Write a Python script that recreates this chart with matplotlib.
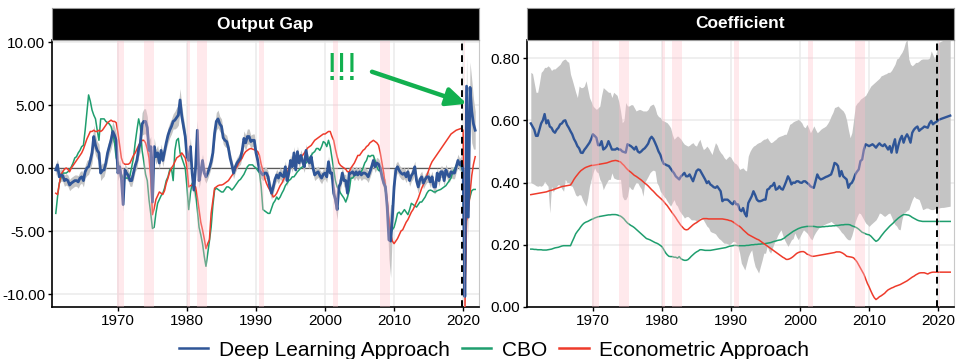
import numpy as np
import matplotlib
matplotlib.use("Agg")
import matplotlib.pyplot as plt
from matplotlib.lines import Line2D
from matplotlib.ticker import FormatStrFormatter

plt.rcParams['font.family'] = ['Liberation Sans', 'DejaVu Sans']
plt.rcParams['axes.unicode_minus'] = False

# ---------------------------------------------------------------------------
# Quarterly data, 1961Q1 - 2021Q4 (one row per year)
# ---------------------------------------------------------------------------
start_year = 1961
n_quarters = 244

# Output gap (%) -- deep learning estimate
gap_dl = [
    -0.15, 0.25, -0.7, -0.55,
    -0.6, -1.0, -0.9, -1.0,
    -1.35, -1.2, -1.1, -1.0,
    -1.0, -1.1, -0.8, -0.7,
    -1.0, -0.3, 0.0, 0.1,
    0.6, 1.2, 2.5, 1.8,
    1.4, 1.2, -0.4, -0.2,
    -0.15, 0.4, 1.2, 1.7,
    2.2, 2.9, 2.6, 2.2,
    -0.4, 0.1, -0.8, -2.9,
    -0.15, -0.4, -0.6, -1.0,
    -1.0, -0.4, 0.2, 0.6,
    1.5, 2.0, 3.5, 3.7,
    3.7, 3.2, 1.4, 1.7,
    -2.7, 1.7, 0.9, 1.2,
    0.4, 1.4, 0.6, 1.3,
    2.0, 2.6, 3.0, 3.3,
    3.7, 3.8, 4.0, 4.2,
    5.4, 4.1, 3.3, 2.5,
    0.9, 0.6, 1.7, -0.4,
    -1.75, 0.1, 3.0, -1.0,
    -0.3, 0.6, -0.4, -0.7,
    -0.4, 0.0, 0.5, 1.2,
    2.75, 3.7, 3.9, 3.5,
    3.3, 2.4, 2.2, 2.1,
    1.6, 0.8, 0.25, -0.4,
    0.1, 0.4, 0.6, 0.8,
    1.4, 2.35, 2.0, 2.5,
    2.5, 2.1, 2.2, 2.2,
    1.2, 0.6, -0.2, -0.4,
    -0.55, -0.4, -0.4, -0.7,
    -1.5, -2.0, -1.5, -0.9,
    -0.55, -0.8, -0.4, -0.6,
    -0.7, 0.1, -1.0, -0.4,
    0.6, 0.1, 1.2, -0.15,
    1.3, 0.4, 1.0, 0.5,
    0.1, 1.4, 0.6, 0.4,
    0.9, 0.0, -0.55, -0.4,
    -0.3, -0.6, -0.8, -0.5,
    -0.4, -0.7, 0.5, -0.4,
    -0.4, -2.0, -2.5, -3.3,
    -1.5, -1.2, -0.4, -1.0,
    -1.0, -2.0, -0.4, -0.4,
    -0.3, -0.55, -0.3, -0.55,
    -0.3, -0.55, -0.4, -0.4,
    -0.5, -0.7, -0.3, 0.1,
    0.6, 0.1, 0.4, 0.3,
    0.0, -0.7, -1.2, -1.5,
    -3.1, -5.7, -5.8, -3.9,
    -1.5, -0.15, 0.1, -0.2,
    -0.4, -0.5, -0.4, -0.7,
    -0.3, -1.0, -0.6, -0.4,
    0.1, -1.0, -1.5, -0.9,
    -0.7, -1.2, -0.9, -0.7,
    -0.7, -1.1, -0.7, -1.5,
    -1.5, -0.4, -1.0, -0.3,
    -0.3, -1.0, -0.15, -0.5,
    -0.7, -0.3, -0.4, -0.4,
    0.1, 0.6, 0.25, 0.5,
    -0.2, -10.2, 6.5, -3.9,
    6.4, 4.5, 3.5, 3.0,
]

# Half-width of the uncertainty band around gap_dl
gap_dl_band = [
    0.45, 0.45, 0.5, 0.5,
    0.45, 0.45, 0.45, 0.45,
    0.45, 0.45, 0.45, 0.45,
    0.45, 0.5, 0.5, 0.5,
    0.5, 0.5, 0.6, 0.6,
    0.7, 0.8, 0.9, 0.8,
    0.7, 0.7, 0.6, 0.6,
    0.5, 0.5, 0.6, 0.6,
    0.7, 0.8, 0.7, 0.6,
    0.6, 0.6, 0.6, 0.5,
    0.5, 0.5, 0.45, 0.45,
    0.45, 0.5, 0.5, 0.6,
    0.6, 0.7, 0.9, 1.0,
    1.0, 0.9, 0.8, 0.8,
    0.8, 0.7, 0.6, 0.6,
    0.5, 0.5, 0.5, 0.5,
    0.5, 0.6, 0.6, 0.6,
    0.6, 0.7, 0.8, 0.8,
    0.9, 0.8, 0.7, 0.6,
    0.6, 0.7, 0.7, 0.7,
    0.7, 0.6, 0.8, 0.6,
    0.6, 0.5, 0.5, 0.5,
    0.45, 0.45, 0.5, 0.6,
    0.6, 0.7, 0.7, 0.6,
    0.6, 0.5, 0.5, 0.5,
    0.45, 0.45, 0.45, 0.45,
    0.45, 0.45, 0.45, 0.5,
    0.5, 0.6, 0.6, 0.6,
    0.6, 0.5, 0.5, 0.5,
    0.45, 0.45, 0.45, 0.45,
    0.45, 0.45, 0.45, 0.45,
    0.5, 0.5, 0.5, 0.45,
    0.45, 0.45, 0.45, 0.45,
    0.45, 0.45, 0.45, 0.45,
    0.45, 0.45, 0.5, 0.45,
    0.45, 0.45, 0.45, 0.45,
    0.45, 0.5, 0.45, 0.45,
    0.45, 0.45, 0.45, 0.45,
    0.45, 0.45, 0.45, 0.45,
    0.45, 0.45, 0.45, 0.45,
    0.5, 0.6, 0.7, 0.8,
    0.6, 0.5, 0.45, 0.5,
    0.5, 0.6, 0.45, 0.45,
    0.45, 0.45, 0.45, 0.45,
    0.45, 0.45, 0.45, 0.45,
    0.45, 0.45, 0.45, 0.45,
    0.45, 0.45, 0.45, 0.45,
    0.45, 0.5, 0.5, 0.6,
    0.8, 1.5, 2.9, 1.0,
    0.6, 0.5, 0.45, 0.45,
    0.45, 0.45, 0.45, 0.45,
    0.45, 0.45, 0.45, 0.45,
    0.45, 0.45, 0.5, 0.45,
    0.45, 0.45, 0.45, 0.45,
    0.45, 0.45, 0.45, 0.5,
    0.5, 0.45, 0.45, 0.45,
    0.45, 0.45, 0.45, 0.45,
    0.45, 0.45, 0.45, 0.45,
    0.45, 0.5, 0.5, 0.5,
    0.6, 1.0, 2.5, 2.0,
    2.0, 2.5, 2.0, 1.5,
]

# Output gap (%) -- CBO
gap_cbo = [
    -3.6, -2.3, -1.2, -0.8,
    -0.4, -0.4, -0.4, -0.3,
    -0.15, 0.1, 0.4, 0.8,
    0.9, 1.2, 1.4, 1.7,
    1.8, 3.0, 4.4, 5.8,
    5.3, 4.6, 4.2, 3.9,
    3.0, 2.2, 3.9, 3.9,
    3.9, 3.7, 3.6, 3.5,
    3.3, 2.75, 2.0, 0.8,
    0.4, -0.15, -0.5, -0.8,
    -0.8, -0.8, -0.8, -0.6,
    0.1, 0.8, 2.0, 3.0,
    3.9, 3.3, 1.4, 0.5,
    -0.5, -1.0, -2.5, -3.6,
    -4.8, -4.7, -3.6, -2.8,
    -2.5, -2.2, -2.0, -1.6,
    -1.0, -0.7, -0.15, 0.0,
    -1.0, 1.4, 2.2, 2.35,
    1.2, 0.8, 0.4, 0.0,
    -1.5, -3.3, -2.0, -1.2,
    -1.4, -2.0, -3.3, -4.7,
    -5.3, -6.0, -7.0, -7.8,
    -6.8, -5.8, -4.7, -3.0,
    -1.75, -1.6, -1.7, -1.8,
    -1.9, -1.9, -1.7, -1.5,
    -1.5, -1.6, -1.75, -1.6,
    -1.4, -1.2, -1.0, -0.9,
    -0.7, -0.5, -0.2, 0.1,
    0.25, 0.25, 0.25, 0.1,
    0.0, -0.2, -0.4, -1.5,
    -3.3, -3.4, -3.5, -3.6,
    -3.6, -3.2, -2.8, -2.6,
    -2.3, -2.5, -2.3, -2.0,
    -1.75, -1.4, -1.2, -1.0,
    -0.9, -0.7, -0.7, -0.5,
    -0.3, -0.15, 0.0, 0.1,
    0.25, 0.4, 0.6, 0.8,
    1.0, 1.2, 1.3, 1.55,
    1.55, 1.4, 1.7, 2.1,
    2.0, 1.7, 2.2, 1.7,
    0.8, -0.15, -1.0, -1.5,
    -1.7, -2.0, -2.2, -2.4,
    -2.7, -2.3, -1.8, -0.8,
    -0.8, -0.6, -0.55, -0.5,
    -0.4, -0.3, 0.0, 0.4,
    0.6, 1.0, 0.9, 1.0,
    1.0, 0.6, 0.1, -0.2,
    -0.2, -0.6, -0.9, -1.8,
    -2.8, -4.5, -5.2, -4.9,
    -4.7, -4.2, -3.6, -3.5,
    -3.7, -3.5, -3.3, -3.5,
    -3.7, -3.3, -2.8, -2.9,
    -3.0, -3.1, -2.9, -2.7,
    -2.7, -2.5, -2.3, -2.0,
    -1.8, -1.75, -1.8, -1.9,
    -1.9, -1.8, -1.75, -1.7,
    -1.6, -1.5, -1.4, -1.2,
    -1.0, -0.8, -0.3, -0.1,
    0.2, 0.4, 0.3, 0.1,
    -0.5, -10.1, -3.5, -2.8,
    -2.3, -1.8, -1.7, -1.7,
]

# Output gap (%) -- econometric estimate
gap_econ = [
    -2.0, -2.1, -1.3, -0.5,
    -0.3, -0.1, 0.0, -0.1,
    -0.3, 0.0, 0.2, 0.4,
    0.6, 0.8, 1.0, 1.2,
    1.5, 1.9, 2.3, 2.6,
    2.9, 2.9, 3.0, 2.9,
    2.9, 3.0, 2.9, 3.0,
    3.2, 3.4, 3.6, 3.7,
    3.8, 3.7, 3.7, 3.6,
    2.8, 1.8, 0.8, 0.4,
    0.3, 0.3, 0.3, 0.4,
    0.7, 1.0, 1.2, 1.5,
    1.8, 2.0, 2.2, 2.2,
    2.0, 1.5, 0.8, -0.8,
    -3.7, -3.2, -2.5, -2.2,
    -1.9, -2.0, -2.1, -1.8,
    -1.2, -0.8, -0.3, 0.0,
    0.2, 0.5, 0.8, 0.9,
    1.0, 1.2, 1.0, 0.8,
    0.1, -1.5, -1.4, -1.35,
    -1.4, -1.5, -2.3, -3.3,
    -4.3, -4.9, -5.6, -6.4,
    -6.0, -5.7, -3.6, -2.6,
    -1.6, -1.5, -1.4, -1.35,
    -1.35, -1.3, -1.2, -1.1,
    -1.0, -0.8, -0.6, -0.4,
    -0.1, 0.1, 0.4, 0.6,
    0.8, 1.1, 1.3, 1.4,
    1.5, 1.55, 1.5, 1.45,
    1.4, 1.3, 1.0, 0.3,
    -0.2, -0.8, -1.2, -1.5,
    -1.75, -2.0, -2.3, -2.2,
    -2.0, -1.7, -1.4, -1.2,
    -0.9, -0.6, -0.4, 0.0,
    0.5, 0.5, 0.6, 0.6,
    0.7, 0.8, 0.9, 1.0,
    1.2, 1.4, 1.6, 1.7,
    1.8, 2.0, 2.2, 2.3,
    2.4, 2.5, 2.6, 2.7,
    2.7, 2.8, 2.9, 2.9,
    2.5, 2.2, 1.5, 0.9,
    0.4, 0.2, 0.1, 0.0,
    -0.1, -0.3, -0.3, 0.0,
    0.2, 0.4, 0.7, 1.0,
    1.0, 1.2, 1.4, 1.5,
    1.7, 1.8, 2.0, 2.1,
    2.2, 2.1, 2.0, 1.8,
    1.2, 0.4, -0.4, -1.5,
    -2.5, -4.0, -5.2, -5.8,
    -6.0, -5.8, -5.6, -5.3,
    -5.0, -4.9, -4.6, -4.3,
    -4.1, -3.8, -3.5, -3.3,
    -3.0, -2.7, -2.4, -2.0,
    -1.6, -1.3, -1.0, -0.6,
    -0.2, 0.2, 0.5, 0.7,
    0.9, 1.1, 1.3, 1.5,
    1.7, 1.9, 2.1, 2.3,
    2.5, 2.7, 2.8, 2.9,
    3.0, 3.05, 3.1, 3.15,
    3.0, -11.5, -4.2, -3.5,
    -2.0, -0.6, 0.3, 0.9,
]

# Coefficient -- deep learning estimate with its band
coef_dl = [
    0.59, 0.58, 0.57, 0.55,
    0.55, 0.57, 0.59, 0.60,
    0.62, 0.59, 0.60, 0.58,
    0.576, 0.565, 0.56, 0.57,
    0.576, 0.587, 0.59, 0.598,
    0.60, 0.585, 0.576, 0.565,
    0.555, 0.54, 0.53, 0.517,
    0.51, 0.496, 0.495, 0.505,
    0.512, 0.52, 0.528, 0.54,
    0.555, 0.55, 0.544, 0.52,
    0.52, 0.533, 0.506, 0.51,
    0.517, 0.533, 0.52, 0.506,
    0.506, 0.506, 0.51, 0.506,
    0.506, 0.50, 0.498, 0.496,
    0.523, 0.52, 0.517, 0.512,
    0.506, 0.515, 0.50, 0.496,
    0.50, 0.506, 0.51, 0.517,
    0.525, 0.54, 0.547, 0.54,
    0.528, 0.515, 0.50, 0.49,
    0.474, 0.46, 0.458, 0.455,
    0.453, 0.445, 0.437, 0.43,
    0.42, 0.415, 0.41, 0.42,
    0.425, 0.431, 0.42, 0.42,
    0.426, 0.415, 0.404, 0.42,
    0.437, 0.442, 0.44, 0.43,
    0.42, 0.41, 0.398, 0.404,
    0.394, 0.39, 0.385, 0.383,
    0.388, 0.38, 0.372, 0.34,
    0.345, 0.345, 0.345, 0.34,
    0.334, 0.33, 0.34, 0.33,
    0.33, 0.313, 0.308, 0.318,
    0.30, 0.291, 0.334, 0.345,
    0.356, 0.372, 0.36, 0.345,
    0.34, 0.34, 0.342, 0.345,
    0.345, 0.377, 0.38, 0.388,
    0.39, 0.399, 0.377, 0.38,
    0.388, 0.38, 0.377, 0.39,
    0.404, 0.42, 0.41, 0.394,
    0.40, 0.399, 0.404, 0.404,
    0.40, 0.399, 0.404, 0.404,
    0.399, 0.395, 0.388, 0.385,
    0.383, 0.404, 0.426, 0.415,
    0.41, 0.412, 0.415, 0.418,
    0.42, 0.423, 0.426, 0.442,
    0.463, 0.46, 0.453, 0.42,
    0.437, 0.42, 0.415, 0.41,
    0.383, 0.395, 0.399, 0.41,
    0.426, 0.435, 0.442, 0.469,
    0.474, 0.506, 0.523, 0.52,
    0.517, 0.52, 0.523, 0.518,
    0.512, 0.52, 0.526, 0.52,
    0.517, 0.523, 0.515, 0.506,
    0.517, 0.496, 0.52, 0.539,
    0.496, 0.52, 0.539, 0.55,
    0.528, 0.545, 0.555, 0.544,
    0.528, 0.56, 0.57, 0.576,
    0.58, 0.566, 0.571, 0.575,
    0.58, 0.578, 0.576, 0.59,
    0.598, 0.587, 0.592, 0.595,
    0.60, 0.603, 0.605, 0.607,
    0.609, 0.611, 0.613, 0.615,
]

coef_dl_hi = [
    0.754, 0.75, 0.72, 0.69,
    0.69, 0.72, 0.754, 0.76,
    0.77, 0.77, 0.775, 0.77,
    0.76, 0.765, 0.765, 0.77,
    0.775, 0.78, 0.79, 0.795,
    0.797, 0.79, 0.786, 0.748,
    0.73, 0.71, 0.69, 0.673,
    0.71, 0.705, 0.705, 0.71,
    0.727, 0.70, 0.673, 0.66,
    0.646, 0.64, 0.635, 0.64,
    0.646, 0.68, 0.705, 0.70,
    0.695, 0.69, 0.69, 0.673,
    0.69, 0.685, 0.68, 0.66,
    0.63, 0.592, 0.60, 0.657,
    0.646, 0.646, 0.65, 0.65,
    0.64, 0.63, 0.633, 0.635,
    0.633, 0.63, 0.63, 0.63,
    0.635, 0.646, 0.65, 0.652,
    0.64, 0.62, 0.612, 0.609,
    0.60, 0.598, 0.595, 0.592,
    0.585, 0.576, 0.555, 0.539,
    0.545, 0.55, 0.545, 0.539,
    0.53, 0.523, 0.52, 0.517,
    0.52, 0.525, 0.528, 0.52,
    0.517, 0.53, 0.539, 0.52,
    0.506, 0.51, 0.517, 0.51,
    0.50, 0.49, 0.51, 0.528,
    0.52, 0.505, 0.496, 0.49,
    0.48, 0.474, 0.48, 0.485,
    0.48, 0.47, 0.463, 0.46,
    0.453, 0.442, 0.445, 0.447,
    0.44, 0.437, 0.485, 0.50,
    0.51, 0.517, 0.52, 0.525,
    0.528, 0.53, 0.535, 0.539,
    0.54, 0.544, 0.535, 0.528,
    0.53, 0.535, 0.539, 0.545,
    0.548, 0.55, 0.552, 0.555,
    0.555, 0.57, 0.587, 0.59,
    0.595, 0.598, 0.60, 0.603,
    0.598, 0.592, 0.58, 0.576,
    0.587, 0.575, 0.56, 0.57,
    0.582, 0.57, 0.56, 0.565,
    0.571, 0.575, 0.578, 0.582,
    0.59, 0.60, 0.614, 0.625,
    0.641, 0.643, 0.646, 0.64,
    0.635, 0.63, 0.62, 0.60,
    0.57, 0.544, 0.56, 0.60,
    0.646, 0.655, 0.66, 0.668,
    0.672, 0.676, 0.68, 0.69,
    0.70, 0.71, 0.715, 0.72,
    0.725, 0.73, 0.735, 0.743,
    0.745, 0.748, 0.75, 0.754,
    0.754, 0.76, 0.77, 0.78,
    0.797, 0.80, 0.81, 0.818,
    0.83, 0.85, 0.86, 0.797,
    0.78, 0.775, 0.78, 0.786,
    0.786, 0.79, 0.795, 0.797,
    0.797, 0.797, 0.797, 0.80,
    0.823, 0.81, 0.797, 0.82,
    0.85, 0.852, 0.855, 0.857,
    0.858, 0.86, 0.86, 0.86,
]

coef_dl_lo = [
    0.40, 0.397, 0.394, 0.39,
    0.388, 0.39, 0.388, 0.392,
    0.404, 0.395, 0.388, 0.302,
    0.388, 0.37, 0.38, 0.388,
    0.394, 0.39, 0.38, 0.372,
    0.41, 0.40, 0.40, 0.39,
    0.388, 0.375, 0.36, 0.356,
    0.361, 0.36, 0.345, 0.334,
    0.324, 0.35, 0.388, 0.41,
    0.431, 0.447, 0.435, 0.431,
    0.41, 0.40, 0.377, 0.39,
    0.40, 0.41, 0.41, 0.431,
    0.415, 0.412, 0.41, 0.41,
    0.41, 0.356, 0.345, 0.345,
    0.356, 0.388, 0.38, 0.377,
    0.39, 0.40, 0.399, 0.388,
    0.38, 0.356, 0.40, 0.41,
    0.42, 0.431, 0.437, 0.44,
    0.437, 0.40, 0.39, 0.372,
    0.365, 0.356, 0.35, 0.34,
    0.332, 0.324, 0.335, 0.345,
    0.33, 0.324, 0.31, 0.302,
    0.295, 0.286, 0.29, 0.291,
    0.286, 0.28, 0.28, 0.28,
    0.275, 0.28, 0.286, 0.286,
    0.28, 0.27, 0.26, 0.255,
    0.243, 0.24, 0.238, 0.235,
    0.227, 0.22, 0.216, 0.21,
    0.205, 0.205, 0.203, 0.20,
    0.205, 0.21, 0.211, 0.205,
    0.195, 0.173, 0.141, 0.13,
    0.119, 0.14, 0.162, 0.175,
    0.184, 0.152, 0.13, 0.12,
    0.109, 0.13, 0.15, 0.173,
    0.173, 0.195, 0.18, 0.173,
    0.19, 0.205, 0.216, 0.23,
    0.24, 0.248, 0.23, 0.216,
    0.205, 0.195, 0.205, 0.216,
    0.22, 0.238, 0.225, 0.216,
    0.227, 0.238, 0.248, 0.243,
    0.238, 0.23, 0.22, 0.216,
    0.23, 0.24, 0.248, 0.255,
    0.26, 0.262, 0.265, 0.268,
    0.27, 0.272, 0.275, 0.27,
    0.265, 0.259, 0.255, 0.248,
    0.24, 0.235, 0.227, 0.22,
    0.216, 0.216, 0.23, 0.25,
    0.275, 0.29, 0.302, 0.30,
    0.29, 0.28, 0.27, 0.265,
    0.259, 0.265, 0.27, 0.275,
    0.28, 0.29, 0.302, 0.30,
    0.295, 0.291, 0.295, 0.30,
    0.302, 0.29, 0.275, 0.265,
    0.26, 0.25, 0.248, 0.28,
    0.302, 0.305, 0.31, 0.313,
    0.33, 0.345, 0.356, 0.35,
    0.348, 0.345, 0.33, 0.313,
    0.315, 0.318, 0.318, 0.315,
    0.313, 0.313, 0.315, 0.318,
    0.318, 0.319, 0.32, 0.32,
    0.321, 0.322, 0.323, 0.324,
]

# Coefficient -- CBO
coef_cbo = [
    0.186, 0.186, 0.185, 0.185,
    0.184, 0.184, 0.184, 0.183,
    0.183, 0.183, 0.184, 0.185,
    0.186, 0.188, 0.19, 0.191,
    0.192, 0.194, 0.196, 0.197,
    0.197, 0.197, 0.197, 0.197,
    0.21, 0.222, 0.235, 0.243,
    0.25, 0.258, 0.265, 0.27,
    0.273, 0.275, 0.278, 0.281,
    0.283, 0.286, 0.288, 0.29,
    0.291, 0.292, 0.293, 0.294,
    0.295, 0.296, 0.296, 0.297,
    0.297, 0.297, 0.296, 0.294,
    0.292, 0.288, 0.283, 0.276,
    0.27, 0.266, 0.262, 0.259,
    0.255, 0.25, 0.245, 0.24,
    0.235, 0.23, 0.225, 0.22,
    0.218, 0.216, 0.213, 0.21,
    0.207, 0.205, 0.202, 0.198,
    0.194, 0.185, 0.175, 0.168,
    0.163, 0.162, 0.162, 0.16,
    0.16, 0.157, 0.162, 0.155,
    0.152, 0.15, 0.15, 0.152,
    0.157, 0.163, 0.168, 0.173,
    0.177, 0.18, 0.184, 0.184,
    0.183, 0.182, 0.182, 0.182,
    0.182, 0.183, 0.184, 0.185,
    0.186, 0.187, 0.188, 0.189,
    0.19, 0.191, 0.193, 0.195,
    0.196, 0.197, 0.198, 0.198,
    0.197, 0.197, 0.197, 0.197,
    0.197, 0.198, 0.198, 0.199,
    0.2, 0.2, 0.201, 0.201,
    0.202, 0.202, 0.203, 0.203,
    0.204, 0.205, 0.206, 0.207,
    0.209, 0.211, 0.212, 0.214,
    0.215, 0.216, 0.219, 0.222,
    0.227, 0.231, 0.235, 0.239,
    0.243, 0.246, 0.249, 0.252,
    0.254, 0.256, 0.257, 0.258,
    0.259, 0.259, 0.259, 0.259,
    0.259, 0.258, 0.257, 0.257,
    0.257, 0.258, 0.258, 0.259,
    0.259, 0.26, 0.26, 0.261,
    0.261, 0.262, 0.262, 0.263,
    0.264, 0.264, 0.265, 0.265,
    0.265, 0.264, 0.261, 0.259,
    0.257, 0.254, 0.25, 0.245,
    0.24, 0.238, 0.235, 0.233,
    0.232, 0.228, 0.222, 0.216,
    0.211, 0.214, 0.22, 0.228,
    0.235, 0.242, 0.248, 0.254,
    0.26, 0.265, 0.27, 0.276,
    0.281, 0.286, 0.29, 0.294,
    0.297, 0.297, 0.296, 0.295,
    0.292, 0.288, 0.285, 0.282,
    0.279, 0.277, 0.276, 0.275,
    0.275, 0.275, 0.275, 0.275,
    0.275, 0.275, 0.275, 0.275,
    0.275, 0.275, 0.275, 0.275,
    0.275, 0.275, 0.275, 0.275,
]

# Coefficient -- econometric estimate
coef_econ = [
    0.361, 0.362, 0.363, 0.364,
    0.365, 0.366, 0.367, 0.368,
    0.369, 0.37, 0.372, 0.374,
    0.375, 0.377, 0.379, 0.381,
    0.383, 0.385, 0.387, 0.388,
    0.389, 0.39, 0.391, 0.392,
    0.40, 0.41, 0.418, 0.425,
    0.432, 0.438, 0.442, 0.446,
    0.449, 0.451, 0.453, 0.455,
    0.455, 0.456, 0.457, 0.458,
    0.459, 0.46, 0.461, 0.462,
    0.463, 0.465, 0.467, 0.469,
    0.47, 0.471, 0.47, 0.468,
    0.466, 0.46, 0.455, 0.448,
    0.442, 0.437, 0.433, 0.428,
    0.423, 0.42, 0.416, 0.412,
    0.408, 0.403, 0.398, 0.394,
    0.389, 0.383, 0.377, 0.372,
    0.366, 0.36, 0.355, 0.35,
    0.345, 0.339, 0.332, 0.326,
    0.318, 0.31, 0.302, 0.295,
    0.287, 0.278, 0.27, 0.262,
    0.256, 0.25, 0.248, 0.249,
    0.254, 0.259, 0.264, 0.268,
    0.271, 0.275, 0.279, 0.282,
    0.284, 0.284, 0.284, 0.283,
    0.283, 0.283, 0.283, 0.283,
    0.283, 0.283, 0.283, 0.283,
    0.282, 0.281, 0.28, 0.278,
    0.277, 0.274, 0.27, 0.266,
    0.262, 0.259, 0.254, 0.248,
    0.243, 0.238, 0.233, 0.23,
    0.227, 0.224, 0.221, 0.218,
    0.216, 0.212, 0.208, 0.204,
    0.2, 0.196, 0.192, 0.188,
    0.184, 0.18, 0.176, 0.172,
    0.168, 0.164, 0.16, 0.157,
    0.153, 0.153, 0.155, 0.158,
    0.162, 0.167, 0.172, 0.175,
    0.177, 0.178, 0.178, 0.175,
    0.17, 0.168, 0.165, 0.163,
    0.163, 0.164, 0.165, 0.166,
    0.167, 0.168, 0.169, 0.17,
    0.171, 0.172, 0.173, 0.174,
    0.175, 0.177, 0.177, 0.177,
    0.175, 0.172, 0.168, 0.163,
    0.162, 0.161, 0.16, 0.158,
    0.152, 0.145, 0.135, 0.125,
    0.115, 0.105, 0.09, 0.076,
    0.065, 0.052, 0.04, 0.03,
    0.024, 0.028, 0.033, 0.036,
    0.04, 0.044, 0.05, 0.055,
    0.058, 0.061, 0.063, 0.066,
    0.068, 0.07, 0.072, 0.075,
    0.078, 0.081, 0.084, 0.088,
    0.092, 0.096, 0.099, 0.103,
    0.106, 0.109, 0.11, 0.11,
    0.11, 0.108, 0.106, 0.109,
    0.111, 0.112, 0.112, 0.112,
    0.112, 0.112, 0.112, 0.112,
    0.112, 0.112, 0.112, 0.112,
]

# NBER recessions (start, end) in fractional years
recessions = [
    (1969.92, 1970.83), (1973.83, 1975.17), (1980.0, 1980.5),
    (1981.5, 1982.83), (1990.5, 1991.17), (2001.17, 2001.83),
    (2007.92, 2009.42), (2020.08, 2020.33),
]
sample_break = 2019.83

series_names = ["Deep Learning Approach", "CBO", "Econometric Approach"]
panel_titles = ["Output Gap", "Coefficient"]
year_ticks = [1970, 1980, 1990, 2000, 2010, 2020]
gap_ticks = [-10, -5, 0, 5, 10]
coef_ticks = [0.0, 0.2, 0.4, 0.6, 0.8]

# ---------------------------------------------------------------------------
BLUE = "#2F5597"
GREEN = "#1F9E6E"
RED = "#EE3B2B"
BAND = "#C4C4C4"
ARROW_GREEN = "#12B04F"

t = start_year + 0.25 * np.arange(n_quarters)
gap_dl = np.array(gap_dl)
gap_dl_band = np.array(gap_dl_band)

W, H = 957, 359
fig = plt.figure(figsize=(W / 100, H / 100), dpi=100)


def panel(x0, x1):
    ax = fig.add_axes([x0 / W, 1 - 307 / H, (x1 - x0) / W, 267 / H])
    strip = fig.add_axes([x0 / W, 1 - 40 / H, (x1 - x0) / W, 32 / H])
    strip.set_facecolor("black")
    strip.set_xticks([])
    strip.set_yticks([])
    for s in strip.spines.values():
        s.set_color("#9a9a9a")
        s.set_linewidth(0.8)
    ax.set_facecolor("white")
    ax.grid(True, color="#EBEBEB", linewidth=1.1)
    ax.set_axisbelow(True)
    for side in ("top", "right"):
        ax.spines[side].set_color("#c8c8c8")
        ax.spines[side].set_linewidth(0.8)
    for side in ("left", "bottom"):
        ax.spines[side].set_color("black")
        ax.spines[side].set_linewidth(1.2)
    ax.tick_params(labelsize=11, length=3, width=1, pad=2, colors="black",
                   labelcolor="black")
    ax.set_xticks(year_ticks)
    ax.set_xlim(1960.45, 2022.3)
    return ax, strip


def shade(ax):
    for a, b in recessions:
        ax.axvspan(a, b, color="#FFC0CB", alpha=0.35, lw=0, zorder=6)
    ax.axvline(sample_break, color="black", lw=1.4, ls=(0, (3.5, 2.5)),
               zorder=7)


# Left: output gap
ax1, st1 = panel(52, 479)
st1.text(0.5, 0.5, panel_titles[0], color="white", fontsize=12.5,
         fontweight="bold", ha="center", va="center", transform=st1.transAxes)
ax1.axhline(0, color="#5a5a5a", lw=0.9, zorder=2)
ax1.fill_between(t, gap_dl - gap_dl_band, gap_dl + gap_dl_band,
                 color=BAND, lw=0, zorder=3)
ax1.plot(t, gap_cbo, color=GREEN, lw=1.1, zorder=4)
ax1.plot(t, gap_econ, color=RED, lw=1.1, zorder=4)
ax1.plot(t, gap_dl, color=BLUE, lw=2.0, zorder=5)
shade(ax1)
ax1.set_ylim(-11.03, 10.16)
ax1.set_yticks(gap_ticks)
ax1.yaxis.set_major_formatter(FormatStrFormatter("%.2f"))

ax1.text(2002.5, 6.98, "!!!", color=ARROW_GREEN, fontsize=27,
         ha="center", va="baseline", zorder=8)
ax1.annotate("", xy=(2020.55, 5.1), xytext=(2006.8, 7.64),
             arrowprops=dict(arrowstyle="-|>,head_length=1.2,head_width=0.55",
                             color=ARROW_GREEN, lw=3.2, shrinkA=0, shrinkB=0),
             zorder=8)

# Right: coefficient
ax2, st2 = panel(527, 954)
st2.text(0.5, 0.5, panel_titles[1], color="white", fontsize=12.5,
         fontweight="bold", ha="center", va="center", transform=st2.transAxes)
ax2.fill_between(t, coef_dl_lo, coef_dl_hi, color=BAND, lw=0, zorder=3)
ax2.plot(t, coef_cbo, color=GREEN, lw=1.1, zorder=4)
ax2.plot(t, coef_econ, color=RED, lw=1.1, zorder=4)
ax2.plot(t, coef_dl, color=BLUE, lw=1.7, zorder=5)
shade(ax2)
ax2.set_ylim(0, 0.858)
ax2.set_yticks(coef_ticks)
ax2.yaxis.set_major_formatter(FormatStrFormatter("%.2f"))

handles = [Line2D([], [], color=c, lw=1.8) for c in (BLUE, GREEN, RED)]
fig.legend(handles, series_names, loc="center", ncol=3, frameon=False,
           bbox_to_anchor=(494 / W, 1 - 350 / H), fontsize=15,
           handlelength=1.4, handletextpad=0.5, columnspacing=0.6)

fig.savefig("out.png", dpi=100)
